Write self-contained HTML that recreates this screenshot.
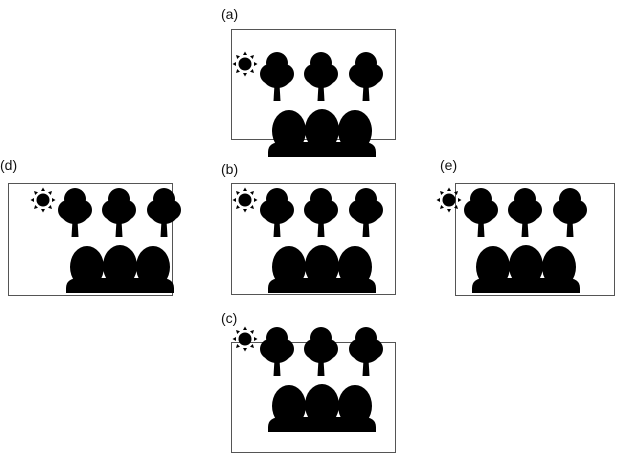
<!DOCTYPE html>
<html><head><style>
html,body{margin:0;padding:0;background:#fff;}
svg{display:block;}
text{font-family:"Liberation Sans","Noto Sans CJK JP",sans-serif;font-size:14px;fill:#111;}
</style></head><body>
<svg width="620" height="458" viewBox="0 0 620 458" xmlns="http://www.w3.org/2000/svg">
<defs>
<g id="sun">
<circle cx="0" cy="0" r="6.5" fill="#000"/>
<g fill="#000">
<polygon points="-2,-9 2,-9 0,-12.5"/>
<polygon points="-2,9 2,9 0,12.5"/>
<polygon points="-9,-2 -9,2 -12.5,0"/>
<polygon points="9,-2 9,2 12.5,0"/>
<polygon points="-7.8,-5 -5,-7.8 -9,-9"/>
<polygon points="7.8,-5 5,-7.8 9,-9"/>
<polygon points="-7.8,5 -5,7.8 -9,9"/>
<polygon points="7.8,5 5,7.8 9,9"/>
</g>
</g>
<g id="tree" fill="#000">
<circle cx="0" cy="-13" r="11"/>
<ellipse cx="-7" cy="-2" rx="10" ry="10"/>
<ellipse cx="7" cy="-2" rx="10" ry="10"/>
<ellipse cx="0" cy="3" rx="13" ry="9"/>
<polygon points="-2.5,8 2.5,8 3.5,25 -3.5,25"/>
</g>
<g id="scene" fill="#000">
<use href="#sun" x="245" y="64"/>
<use href="#tree" x="277" y="76"/>
<use href="#tree" x="321" y="76"/>
<use href="#tree" x="366" y="76"/>
<path d="M268,157 L268,152 Q268,142 282,142 L362,142 Q376,142 376,152 L376,157 Z"/>
<ellipse cx="289" cy="131" rx="17" ry="21"/>
<ellipse cx="322" cy="130" rx="17" ry="21"/>
<ellipse cx="355" cy="131" rx="17" ry="21"/>
</g>
</defs>
<g fill="none" stroke="#555" stroke-width="1">
<rect x="231.5" y="29.5" width="164" height="110"/>
<rect x="231.5" y="183.5" width="164" height="111"/>
<rect x="231.5" y="342.5" width="164" height="110"/>
<rect x="8.5" y="183.5" width="164" height="112"/>
<rect x="455.5" y="183.5" width="159" height="112"/>
</g>
<use href="#scene"/>
<use href="#scene" y="136"/>
<use href="#scene" y="275"/>
<use href="#scene" x="-202" y="136"/>
<use href="#scene" x="204" y="136"/>
<text x="221" y="19">(a)</text>
<text x="221" y="174">(b)</text>
<text x="221" y="323">(c)</text>
<text x="0" y="170">(d)</text>
<text x="440" y="170">(e)</text>
</svg>
</body></html>
